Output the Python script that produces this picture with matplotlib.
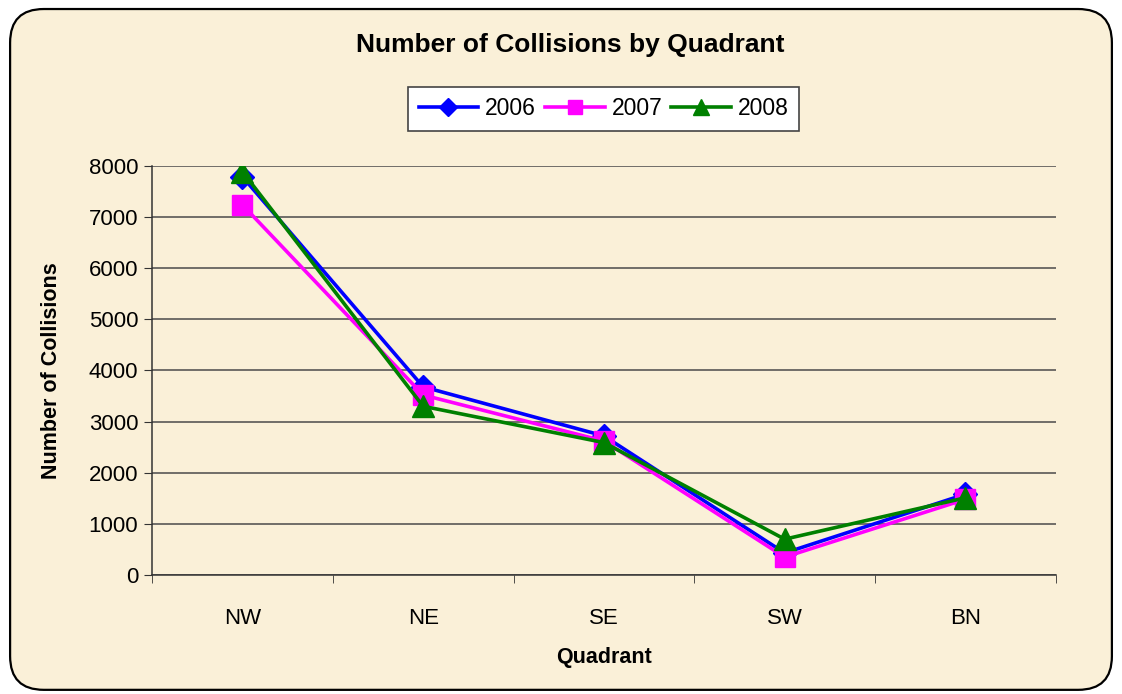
import numpy as np
import matplotlib.pyplot as plt
from matplotlib.patches import FancyBboxPatch

plt.rcParams['font.family'] = ['Liberation Sans', 'DejaVu Sans']

# Collisions per quadrant
quadrants = ['NW', 'NE', 'SE', 'SW', 'BN']
y2006 = [7790, 3680, 2720, 430, 1580]
y2007 = [7240, 3520, 2620, 350, 1480]
y2008 = [7890, 3300, 2590, 700, 1510]

bg = '#FAF0D8'

fig = plt.figure(figsize=(11.22, 6.94), dpi=100)
fig.patch.set_facecolor('white')

# rounded chart-area border, kept behind the axes
frame = FancyBboxPatch((0.009, 0.006), 0.982, 0.981,
                       boxstyle='round,pad=0,rounding_size=0.03',
                       transform=fig.transFigure, facecolor=bg,
                       edgecolor='black', linewidth=1.6, zorder=-5,
                       mutation_aspect=1122 / 694)
fig.patches.append(frame)

ax = fig.add_axes([0.1355, 0.1715, 0.8055, 0.5893])
ax.set_facecolor('none')

x = np.arange(len(quadrants))
ax.plot(x, y2006, color='#0000FF', lw=2.6, marker='D', ms=12, label='2006', zorder=3)
ax.plot(x, y2007, color='#FF00FF', lw=2.6, marker='s', ms=14, label='2007', zorder=4)
ax.plot(x, y2008, color='#008000', lw=2.6, marker='^', ms=16, label='2008', zorder=5)

ax.set_xlim(-0.5, len(quadrants) - 0.5)
ax.set_ylim(0, 8000)
ax.set_yticks(range(0, 8001, 1000))
ax.set_xticks(x)
ax.set_xticklabels(quadrants)
ax.set_xticks(np.arange(-0.5, len(quadrants)), minor=True)
ax.tick_params(axis='x', which='major', length=0, pad=24, labelsize=16)
ax.tick_params(axis='x', which='minor', length=6, direction='out', color='#333333')
ax.tick_params(axis='y', length=6, direction='out', color='#333333', labelsize=16, pad=4)

ax.yaxis.grid(True, color='#4a4a4a', lw=1.1)
ax.set_axisbelow(True)
for s in ['top', 'right']:
    ax.spines[s].set_visible(False)
for s in ['left', 'bottom']:
    ax.spines[s].set_color('#333333')
    ax.spines[s].set_linewidth(1.1)

ax.set_xlabel('Quadrant', fontsize=15.5, fontweight='bold', labelpad=13)
ax.set_ylabel('Number of Collisions', fontsize=15.5, fontweight='bold', labelpad=19)

fig.text(0.508, 0.935, 'Number of Collisions by Quadrant', ha='center', va='center',
         fontsize=19, fontweight='bold')

leg = fig.legend(loc='center', bbox_to_anchor=(0.538, 0.843), ncol=3, fontsize=16.5,
                 frameon=True, fancybox=False, edgecolor='#444444', framealpha=1,
                 handlelength=2.6, columnspacing=0.4, handletextpad=0.3,
                 borderpad=0.45, markerscale=0.75)
leg.get_frame().set_linewidth(1.2)

fig.savefig('out.png', dpi=100, facecolor=fig.get_facecolor())
